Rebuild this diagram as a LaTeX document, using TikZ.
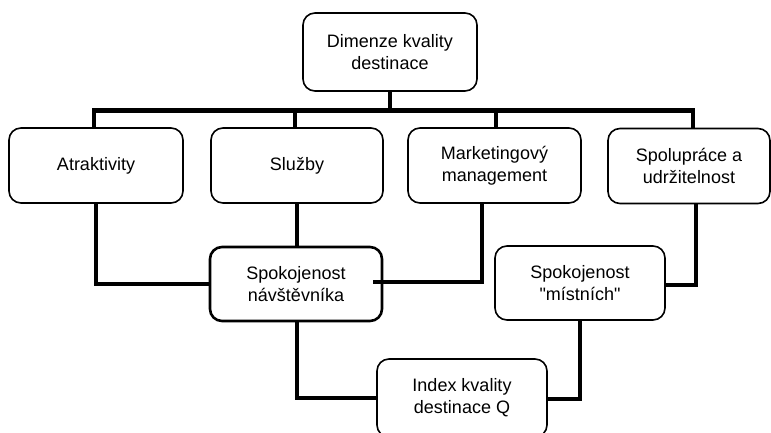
\documentclass[tikz,border=0pt]{standalone}
\usepackage{fontspec}
\setmainfont{Liberation Sans}[Ligatures=TeXOff]
\usetikzlibrary{positioning, calc}

\begin{document}
\begin{tikzpicture}[
  x=1pt, y=-1pt,
  qbox/.style={draw=black, fill=white, line width=1.6pt, rounded corners=12pt, align=center, inner sep=4pt, minimum height=75pt, font=\fontsize{18}{22}\selectfont},
  qboxb/.style={qbox, line width=2.6pt},
  conn/.style={draw=black, line width=4.6pt}
]
  \useasboundingbox (0,0) rectangle (771,432);
  \fill[white] (0,0) rectangle (771,432);

  \node[qbox, minimum width=174pt, minimum height=78pt] (dim) at (390,52) {Dimenze kvality\\destinace};
  \node[qbox, minimum width=174pt] (atr) at (96,165.5) {Atraktivity};
  \node[qbox, minimum width=172pt] (sluz) at (297,165.5) {Služby};
  \node[qbox, minimum width=173pt] (mkt) at (494.5,165.5) {Marketingový\\management};
  \node[qbox, minimum width=162pt] (spol) at (689,166) {Spolupráce a\\udržitelnost};

  \node[qboxb, minimum width=172pt, minimum height=74pt] (spokn) at (296,284) {Spokojenost\\návštěvníka};
  \node[qbox, minimum width=170pt, minimum height=74pt] (spokm) at (580,283) {Spokojenost\\"místních"};
  \node[qbox, minimum width=170pt, minimum height=78pt] (index) at (462,398) {Index kvality\\destinace Q};

  \draw[conn] (dim.south) -- ++(0,20);
  \draw[conn] ([xshift=-2pt]atr.north) -- ++(0,-17) -| ([xshift=4pt]spol.north);
  \draw[conn] ([xshift=-2pt]sluz.north) -- ++(0,-17);
  \draw[conn] ([xshift=1.5pt]mkt.north) -- ++(0,-17);

  \draw[conn] (atr.south) |- (spokn.west);
  \draw[conn] (sluz.south) -- (sluz.south |- spokn.north);
  \draw[conn] ([xshift=-12.5pt]mkt.south) |- ([xshift=-10pt,yshift=2pt]spokn.east);
  \draw[conn] ([xshift=7pt]spol.south) |- ([yshift=-2pt]spokm.east);
  \draw[conn] ([xshift=1pt]spokn.south) |- (index.west);
  \draw[conn] (spokm.south) |- ([yshift=-1pt]index.east);
\end{tikzpicture}
\end{document}
